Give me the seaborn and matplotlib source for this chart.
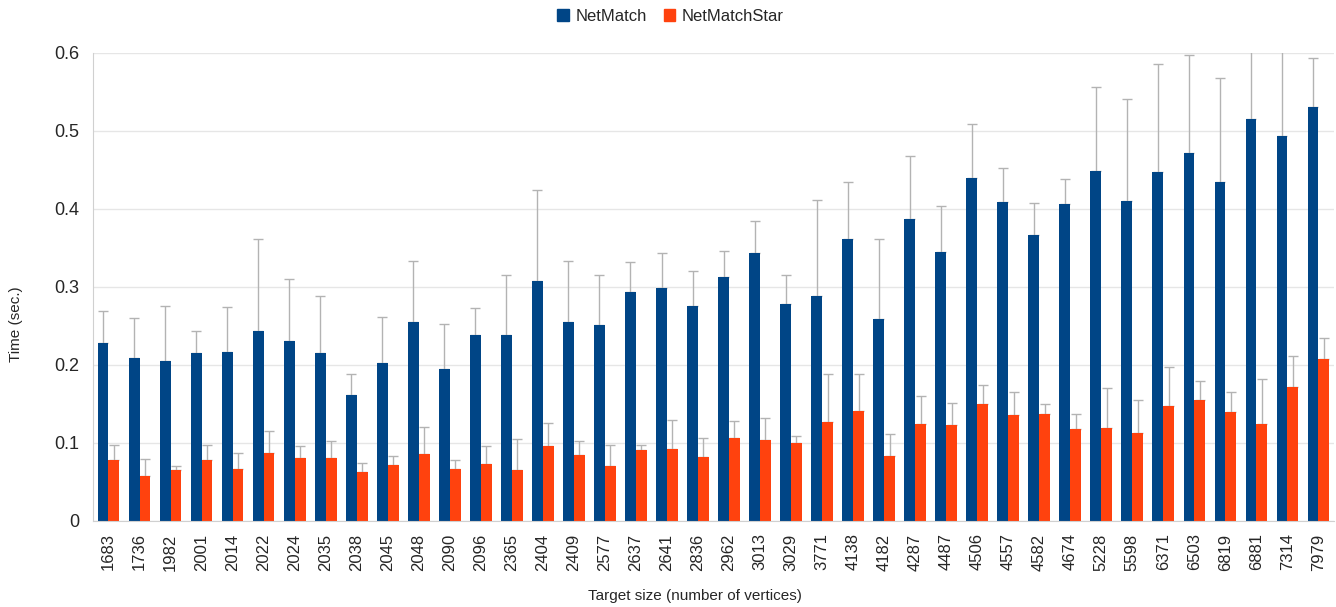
# Temps de NetMatch vs NetMatchStar selon la taille de la cible
import matplotlib
matplotlib.use("Agg")
import matplotlib.pyplot as plt
from matplotlib.ticker import MultipleLocator, FixedLocator
import pandas as pd
import seaborn as sns

# données
sizes = ["1683", "1736", "1982", "2001", "2014", "2022", "2024", "2035", "2038", "2045",
         "2048", "2090", "2096", "2365", "2404", "2409", "2577", "2637", "2641", "2836",
         "2962", "3013", "3029", "3771", "4138", "4182", "4287", "4487", "4506", "4557",
         "4582", "4674", "5228", "5598", "6371", "6503", "6819", "6881", "7314", "7979"]

netmatch = [0.228, 0.209, 0.205, 0.215, 0.217, 0.244, 0.231, 0.215, 0.162, 0.203,
            0.255, 0.195, 0.238, 0.238, 0.308, 0.255, 0.251, 0.294, 0.299, 0.276,
            0.313, 0.344, 0.278, 0.288, 0.362, 0.259, 0.387, 0.345, 0.440, 0.409,
            0.367, 0.406, 0.449, 0.410, 0.447, 0.472, 0.435, 0.515, 0.494, 0.531]
netmatch_sd = [0.041, 0.051, 0.070, 0.029, 0.057, 0.117, 0.079, 0.073, 0.027, 0.058,
               0.078, 0.058, 0.035, 0.078, 0.116, 0.078, 0.064, 0.038, 0.044, 0.045,
               0.033, 0.040, 0.038, 0.123, 0.072, 0.103, 0.081, 0.059, 0.069, 0.043,
               0.041, 0.033, 0.107, 0.131, 0.139, 0.125, 0.133, 0.125, 0.130, 0.062]

netmatchstar = [0.078, 0.058, 0.065, 0.078, 0.067, 0.087, 0.081, 0.081, 0.063, 0.072,
                0.086, 0.067, 0.073, 0.065, 0.096, 0.085, 0.071, 0.091, 0.092, 0.082,
                0.106, 0.104, 0.100, 0.127, 0.141, 0.083, 0.124, 0.123, 0.150, 0.136,
                0.137, 0.118, 0.119, 0.113, 0.147, 0.155, 0.140, 0.124, 0.172, 0.208]
netmatchstar_sd = [0.020, 0.022, 0.005, 0.019, 0.020, 0.028, 0.015, 0.021, 0.011, 0.011,
                   0.035, 0.011, 0.023, 0.040, 0.029, 0.018, 0.026, 0.006, 0.038, 0.024,
                   0.022, 0.028, 0.009, 0.062, 0.047, 0.029, 0.036, 0.028, 0.024, 0.029,
                   0.013, 0.019, 0.052, 0.042, 0.050, 0.024, 0.026, 0.058, 0.039, 0.026]

methods = ["NetMatch", "NetMatchStar"]
colors = ["#004586", "#ff420e"]

df = pd.DataFrame({
    "size": sizes * 2,
    "time": netmatch + netmatchstar,
    "sd": netmatch_sd + netmatchstar_sd,
    "method": [methods[0]] * len(sizes) + [methods[1]] * len(sizes),
})

sns.set_style("white")
plt.rcParams["font.family"] = ["Liberation Sans", "DejaVu Sans"]

fig = plt.figure(figsize=(13.36, 6.07), dpi=100)
ax = fig.add_axes([0.0696, 0.1417, 0.9289, 0.771])

sns.barplot(data=df, x="size", y="time", hue="method", order=sizes, hue_order=methods,
            palette=colors, width=0.7, errorbar=None, legend=False, ax=ax,
            saturation=1, linewidth=0, zorder=2)

# barres d'erreur (seulement vers le haut), derrière les barres
for cont, sd in zip(ax.containers, [netmatch_sd, netmatchstar_sd]):
    xs = [p.get_x() + p.get_width() / 2 for p in cont.patches]
    ys = [p.get_height() for p in cont.patches]
    ax.errorbar(xs, ys, yerr=[[0] * len(sd), sd], fmt="none", ecolor="#b3b3b3",
                elinewidth=1, capsize=3.4, capthick=1, zorder=1)

ax.set_ylim(0, 0.6)
ax.set_xlim(-0.5, len(sizes) - 0.5)
ax.yaxis.set_major_locator(MultipleLocator(0.1))
ax.yaxis.set_major_formatter(plt.FuncFormatter(lambda v, p: "%g" % round(v, 1)))
ax.grid(axis="y", color="#e6e6e6", linewidth=1)
ax.set_axisbelow(True)
for s in ["top", "right"]:
    ax.spines[s].set_visible(False)
for s in ["left", "bottom"]:
    ax.spines[s].set_color("#d0d0d0")

ax.tick_params(axis="y", length=6, color="#d0d0d0", labelsize=13, pad=4)
ax.tick_params(axis="x", which="major", length=0, labelsize=12, rotation=90, pad=9)
ax.xaxis.set_minor_locator(FixedLocator([i - 0.5 for i in range(len(sizes) + 1)]))
ax.tick_params(axis="x", which="minor", length=7, color="#d0d0d0")

ax.set_xlabel("Target size (number of vertices)", fontsize=11)
ax.xaxis.set_label_coords(0.485, -0.145)
ax.set_ylabel("Time (sec.)", fontsize=11)
ax.yaxis.set_label_coords(-0.056, 0.42)

handles = [plt.Rectangle((0, 0), 1, 1, color=c) for c in colors]
fig.legend(handles, methods, loc="center", bbox_to_anchor=(0.502, 0.973), ncol=2,
           frameon=False, fontsize=12, handlelength=0.7, handleheight=0.7,
           handletextpad=0.4, columnspacing=1.0)

fig.savefig("out.png", dpi=100)
